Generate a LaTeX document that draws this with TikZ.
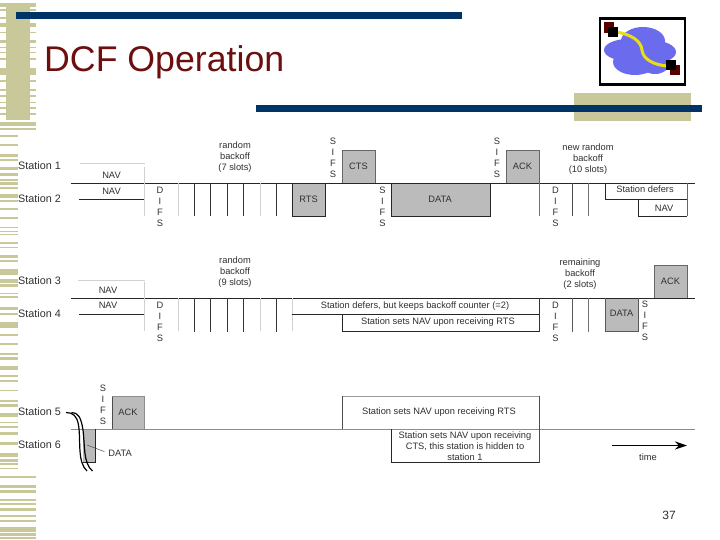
\documentclass[tikz,border=0pt]{standalone}
\usepackage{fontspec}
\setmainfont{Liberation Sans}
\usetikzlibrary{arrows.meta}
\definecolor{khaki}{HTML}{C9C89B}
\definecolor{navy}{HTML}{003366}
\definecolor{titlered}{HTML}{6E0F0F}
\definecolor{boxgray}{HTML}{BBBBBB}
\definecolor{cloud}{HTML}{6B6BEE}
\definecolor{ink}{HTML}{303030}
\begin{document}
\begin{tikzpicture}[x=1pt,y=-1pt,
  station/.style={anchor=west,inner sep=0,font=\fontsize{10.8}{12}\selectfont,text=ink},
  lbl/.style={inner sep=0,align=center,font=\fontsize{9.3}{10.9}\selectfont,text=ink},
  stack/.style={inner sep=0,align=center,font=\fontsize{9.3}{10.9}\selectfont,text=ink},
  wire/.style={line width=0.8pt,black!85},
  faint/.style={line width=0.5pt,black!18},
  tick/.style={line width=0.7pt,black!80},
  shade/.style={fill=boxgray,draw=none}]
\useasboundingbox (0,0) rectangle (720,540);
\fill[white] (0,0) rectangle (720,540);
% left decoration
\fill[khaki] (6,3) rectangle (30,120);
\foreach \a/\b in {3/7,9/11,17/19,23/27,32/33,40/43,47/48,52/53,58/60,68/75,80/82,89/91,95/97,102/103,107/109,113/115,122/126,128/130,476/478,485/488,490/493,499/501,503/505,508/511,515/517,520/522,527/532,533/536,537/539}
  \fill[khaki] (0,\a) rectangle (36,\b);
\foreach \a/\b in {135/137,144/146,154/157,159/161,167/170,173/176,179/181,182/185,187/189,194/198,200/202,208/210,217/219,227/228,231/232,234/235,242/244,247/248,255/258,260/262,269/275,279/283,284/287,293/294,296/298,307/310,313/315,322/328,334/336,343/345,353/355,357/360,366/370,375/377,380/382,390/391,400/402,404/407,413/417,422/423,426/428,432/435,442/445,453/457,459/462,463/465,468/469}
  \fill[khaki] (0,\a) rectangle (18,\b);
\fill[navy] (16,12) rectangle (462,19);
\fill[khaki] (574,93) rectangle (691,121);
\fill[navy] (256,105) rectangle (702,112);
\node[anchor=base west,inner sep=0,text=titlered,font=\fontsize{35.7}{40}\selectfont] (title) at (44,72) {DCF Operation};
% logo
\draw[line width=2.5pt,black,fill=white] (600,18.5) rectangle (685,84.5);
\fill[cloud] (643,41) ellipse [x radius=22,y radius=14];
\fill[cloud] (628,50) ellipse [x radius=24,y radius=11];
\fill[cloud] (650,52) ellipse [x radius=26,y radius=12];
\fill[cloud] (635,62) ellipse [x radius=22,y radius=13];
\fill[cloud] (655,62) ellipse [x radius=15,y radius=12];
\fill[red!35!black] (604,22) rectangle (614,33);
\fill[red!35!black] (670,65) rectangle (680,75);
\draw[line width=3pt,yellow!90!black] (617,32) .. controls (632,35) and (641,41) .. (642,50) .. controls (643,60) and (655,65) .. (667,66);
\fill[black] (608,27) rectangle (618,37);
\fill[black] (666,60) rectangle (676,70);
% stations
\node[station] (s1) at (18,166) {Station 1};
\node[station] (s2) at (18,199) {Station 2};
\node[station] (s3) at (18,281) {Station 3};
\node[station] (s4) at (18,314) {Station 4};
\node[station] (s5) at (18,412) {Station 5};
\node[station] (s6) at (18,445) {Station 6};
% group 1 boxes
\fill[shade] (292,183) rectangle (325,216);
\fill[shade] (342,150) rectangle (375,183);
\fill[shade] (391.5,183) rectangle (490,216);
\fill[shade] (506,150) rectangle (539,183);
\draw[faint] (80,163) -- (144.5,163);
\draw[wire] (71,183.3) -- (695,183.3);
\draw[wire] (79,199.5) -- (144.5,199.5);
\draw[faint] (144.5,167) -- (144.5,216);
\foreach \x in {178,260} \draw[faint] (\x,183) -- (\x,216);
\foreach \x in {194.5,210.5,227.5,243.5,276} \draw[tick] (\x,183) -- (\x,216.5);
\draw[wire] (292,183) -- (292,216.5) -- (325,216.5) -- (325,183);
\draw[wire,black!60] (342,183) -- (342,150) -- (375,150) -- (375,183);
\draw[wire] (391.5,183) -- (391.5,216.5) -- (490,216.5) -- (490,183);
\draw[wire,black!60] (506,183) -- (506,150) -- (539,150) -- (539,183);
\draw[tick,black!55] (539,183) -- (539,216.5);
\draw[tick,black!70] (572,183) -- (572,216.5);
\draw[tick,black!55] (588.5,183) -- (588.5,216.5);
\draw[wire] (605,183) -- (605,199.5) -- (687,199.5);
\draw[wire,black!60] (687,183) -- (687,216.5);
\draw[wire] (638,199.5) -- (638,216.5) -- (687,216.5);
\node[lbl] (n1) at (111.5,175) {NAV};
\node[lbl] (n2) at (111.5,191) {NAV};
\node[lbl] (b1) at (235,157) {random\\backoff\\(7 slots)};
\node[stack] (d1) at (160,207) {D\\I\\F\\S};
\node[lbl] (rts) at (308.5,199) {RTS};
\node[stack] (si1) at (333,158) {S\\I\\F\\S};
\node[lbl] (cts) at (358.5,166) {CTS};
\node[stack] (si2) at (382.5,207) {S\\I\\F\\S};
\node[lbl] (data1) at (440,199) {DATA};
\node[stack] (si3) at (497,158) {S\\I\\F\\S};
\node[lbl] (ack1) at (522.5,166) {ACK};
\node[stack] (d2) at (555.5,207) {D\\I\\F\\S};
\node[lbl] (b2) at (588,159) {new random\\backoff\\(10 slots)};
\node[lbl] (def) at (645,189.5) {Station defers};
\node[lbl] (n3) at (664,208) {NAV};
% group 2 boxes
\fill[shade] (605,298) rectangle (638,331);
\fill[shade] (654.5,265) rectangle (687,298);
\draw[faint] (78,280) -- (144.5,280);
\draw[wire] (71,298.3) -- (695,298.3);
\draw[wire] (79,314.5) -- (144.5,314.5);
\draw[faint] (144.5,282) -- (144.5,331);
\foreach \x in {178,260,292} \draw[faint] (\x,298) -- (\x,331);
\foreach \x in {194.5,210.5,227.5,243.5,276} \draw[tick] (\x,298) -- (\x,331.5);
\draw[wire] (292,314.5) -- (539,314.5);
\draw[wire] (342,314.5) -- (342,331.5) -- (539,331.5);
\draw[tick] (539,298) -- (539,331.5);
\draw[tick,black!65] (572,298) -- (572,331.5);
\draw[tick,black!55] (588.5,298) -- (588.5,331.5);
\draw[wire,black!65] (605,298) -- (605,331.5) -- (638,331.5) -- (638,298);
\draw[wire,black!60] (654.5,298) -- (654.5,265) -- (687,265) -- (687,298);
\node[lbl] (n4) at (108,290) {NAV};
\node[lbl] (n5) at (108,305.5) {NAV};
\node[lbl] (b3) at (235,272) {random\\backoff\\(9 slots)};
\node[stack] (d3) at (160,322) {D\\I\\F\\S};
\node[lbl] (def2) at (415,306.5) {Station defers, but keeps backoff counter (=2)};
\node[lbl] (nav2) at (438,322) {Station sets NAV upon receiving RTS};
\node[stack] (d4) at (555.5,322) {D\\I\\F\\S};
\node[lbl] (b4) at (580,274) {remaining\\backoff\\(2 slots)};
\node[lbl] (data2) at (621.5,313.5) {DATA};
\node[stack] (si4) at (645,321) {S\\I\\F\\S};
\node[lbl] (ack2) at (670.5,281.5) {ACK};
% group 3 boxes
\fill[shade] (83,429) rectangle (95.5,462);
\fill[shade] (112,396) rectangle (144.5,429);
\draw[line width=0.8pt,black!45] (71,429.3) -- (695,429.3);
\draw[wire] (83,462.5) -- (95.5,462.5) -- (95.5,429.3);
\draw[wire,black!70] (112,429) -- (112,396);
\draw[line width=0.6pt,black!45] (112,396) -- (144.5,396) -- (144.5,429);
\draw[line width=0.6pt,black!40] (342,396) -- (539,396);
\draw[wire,black!70] (342,429) -- (342,396);
\draw[wire,black!70] (539,396) -- (539,462.5);
\draw[wire] (391.5,429.3) -- (391.5,462.5) -- (539,462.5);
\node[stack] (si5) at (103,405) {S\\I\\F\\S};
\node[lbl] (ack3) at (128,412) {ACK};
\node[lbl] (data3) at (120,453) {DATA};
\coordinate (leadA) at (87,445);
\draw[line width=0.5pt,black!70,shorten >=4pt] (leadA) -- (data3.west);
\node[lbl] (nav3) at (439,412) {Station sets NAV upon receiving RTS};
\node[lbl,font=\fontsize{9.3}{11}\selectfont] (nav4) at (465,446) {Station sets NAV upon receiving\\CTS, this station is hidden to\\station 1};
% break marks
\draw[line width=1.2pt,black] (66,412.5) .. controls (73,412.5) and (77,416) .. (78.5,425) .. controls (81,440) and (77,462) .. (87,471);
\draw[line width=1.2pt,black] (71.5,412.5) .. controls (78,412.5) and (81,417) .. (83,430) .. controls (85,445) and (83,463) .. (92.5,471);
% time arrow
\coordinate (t0) at (612,445.5);
\coordinate (t1) at (687,445.5);
\draw[line width=1.8pt,black,-{Stealth[length=12pt,width=8pt]}] (t0) -- (t1);
\node[lbl] (time) at (648,457.5) {time};
\node[inner sep=0,font=\fontsize{12}{14}\selectfont,text=ink] (page) at (669,515.5) {37};
\end{tikzpicture}
\end{document}
